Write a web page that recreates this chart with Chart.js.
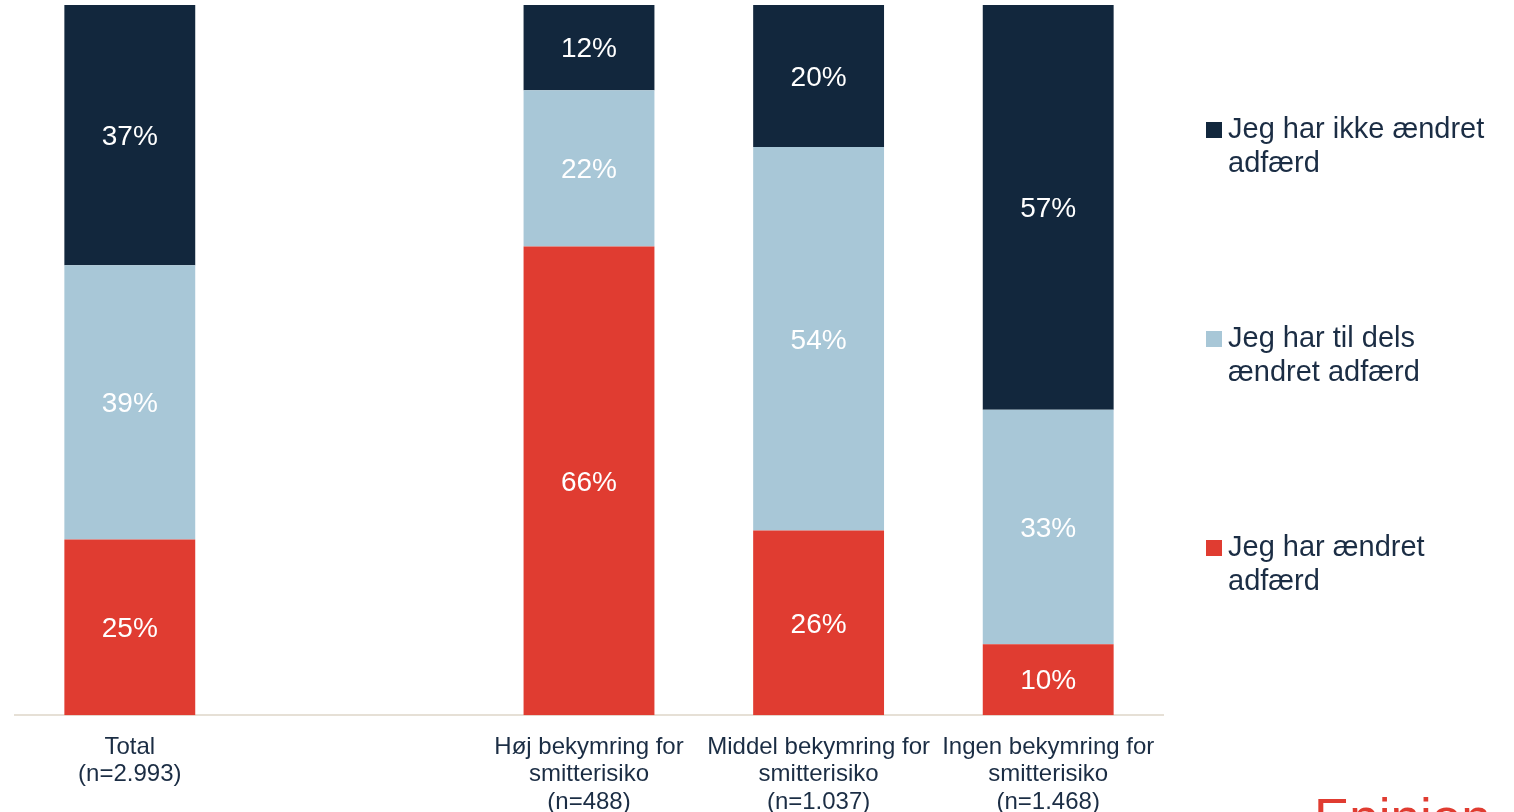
<!DOCTYPE html>
<html>
<head>
<meta charset="utf-8">
<script src="https://cdn.jsdelivr.net/npm/chart.js@4/dist/chart.umd.min.js"></script>
<style>
  html, body { margin: 0; padding: 0; background: #fff; overflow: hidden; width: 1514px; height: 812px; }
  #wrap { position: absolute; left: 0; top: 0; width: 1514px; height: 834px; }
  .lg-box { position: absolute; width: 16px; height: 16px; }
  .lg-text { position: absolute; left: 1228px; width: 272px; font-family: "Liberation Sans", Arial, sans-serif;
             font-size: 29px; line-height: 34px; color: #1b2d44; }
  #logo { position: absolute; left: 1314px; top: 792px; font-family: "Liberation Sans", Arial, sans-serif;
          font-size: 53px; line-height: 52px; color: #e03c31; }
</style>
</head>
<body>
<div id="wrap"><canvas id="chart" width="1514" height="834"></canvas></div>
<div id="legend"></div>
<div id="logo">Epinion</div>
<script>
// kategorier (tom plads mellem Total og undergrupperne)
const categories = [
  ['Total', '(n=2.993)'],
  '',
  ['Høj bekymring for', 'smitterisiko', '(n=488)'],
  ['Middel bekymring for', 'smitterisiko', '(n=1.037)'],
  ['Ingen bekymring for', 'smitterisiko', '(n=1.468)']
];

// serier, i procent som vist
const aendret     = [25, null, 66, 26, 10];
const tilDels     = [39, null, 22, 54, 33];
const ikkeAendret = [37, null, 12, 20, 57];

const seriesNames = ['Jeg har ændret adfærd', 'Jeg har til dels ændret adfærd', 'Jeg har ikke ændret adfærd'];
const seriesColors = ['#e03c31', '#a8c7d7', '#12273d'];

// summer pr. søjle, så hver søjle fylder 100%
const totals = categories.map((c, i) => (aendret[i] || 0) + (tilDels[i] || 0) + (ikkeAendret[i] || 0));
const toShare = arr => arr.map((v, i) => v == null ? null : v / totals[i] * 100);

const rawSeries = [aendret, tilDels, ikkeAendret];

const datasets = rawSeries.map((arr, i) => ({
    label: seriesNames[i],
    data: toShare(arr),
    raw: arr,
    backgroundColor: seriesColors[i],
    borderWidth: 0,
    barPercentage: 0.57,
    categoryPercentage: 1,
}));

// tal inde i søjlerne
const barLabels = {
    id: 'barLabels',
    afterDatasetsDraw(chart) {
        const ctx = chart.ctx;
        ctx.save();
        ctx.font = '28px "Liberation Sans", Arial, sans-serif';
        ctx.fillStyle = '#ffffff';
        ctx.textAlign = 'center';
        ctx.textBaseline = 'middle';
        chart.data.datasets.forEach((ds, di) => {
            const meta = chart.getDatasetMeta(di);
            meta.data.forEach((bar, i) => {
                const v = ds.raw[i];
                if (v == null) return;
                const y = (bar.y + bar.base) / 2 + 2;
                ctx.fillText(v + '%', bar.x, y);
            });
        });
        ctx.restore();
    }
};

new Chart(document.getElementById('chart'), {
    type: 'bar',
    data: { labels: categories, datasets: datasets },
    options: {
        responsive: false,
        animation: false,
        layout: { padding: { left: 15, right: 351, top: 5, bottom: 0 } },
        scales: {
            x: {
                stacked: true,
                grid: { display: false, drawTicks: false },
                border: { display: true, color: '#e6e0d6', width: 2 },
                ticks: {
                    padding: 18,
                    color: '#1b2d44',
                    maxRotation: 0,
                    autoSkip: false,
                    font: { family: '"Liberation Sans", Arial, sans-serif', size: 24, lineHeight: 1.15 }
                }
            },
            y: { stacked: true, display: false, min: 0, max: 100 }
        },
        plugins: {
            legend: { display: false },
            tooltip: { enabled: false }
        }
    },
    plugins: [barLabels]
});

// legende til højre (øverste serie først)
const legendTops = [111, 320, 529];
const legend = document.getElementById('legend');
[2, 1, 0].forEach((s, k) => {
    const box = document.createElement('div');
    box.className = 'lg-box';
    box.style.left = '1206px';
    box.style.top = (legendTops[k] + 11) + 'px';
    box.style.background = seriesColors[s];
    legend.appendChild(box);
    const txt = document.createElement('div');
    txt.className = 'lg-text';
    txt.style.top = legendTops[k] + 'px';
    txt.textContent = seriesNames[s];
    legend.appendChild(txt);
});
</script>
</body>
</html>
